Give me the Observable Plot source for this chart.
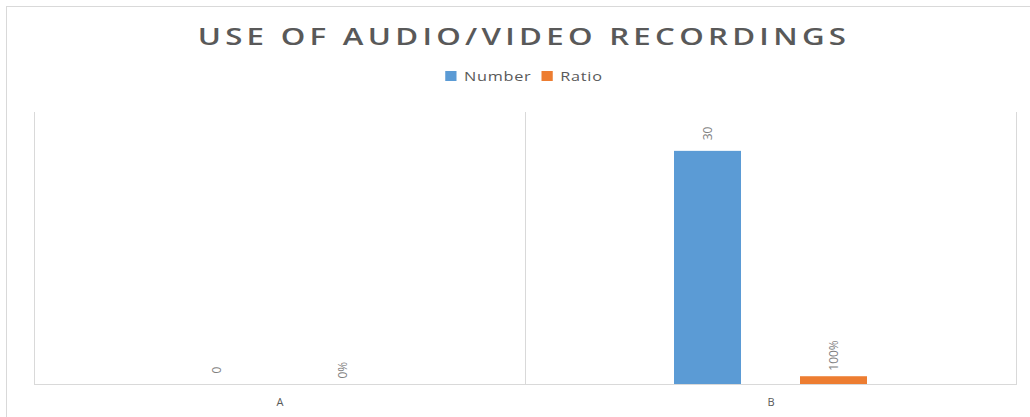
<!DOCTYPE html>
<html>
<head>
<meta charset="utf-8">
<script src="https://cdn.jsdelivr.net/npm/d3@7"></script>
<script src="https://cdn.jsdelivr.net/npm/@observablehq/plot@0.6"></script>
<style>
  html, body { margin: 0; padding: 0; background: #fff; }
  #chart { position: relative; width: 1030px; height: 417px; overflow: hidden; font-family: "Open Sans", sans-serif; }
  #border { position: absolute; left: 6px; top: 6px; width: 1100px; height: 500px; border-left: 1px solid #d9d9d9; border-top: 1px solid #d9d9d9; }
  #title { position: absolute; left: 9px; top: 19px; width: 1030px; text-align: center; font-size: 24px; font-weight: 600; letter-spacing: 3.3px; color: #595959; transform: scaleX(1.3); transform-origin: 515px 0; white-space: nowrap; }
  #legend { position: absolute; left: 9px; top: 67px; width: 1030px; display: flex; justify-content: center; gap: 8px; font-size: 13px; letter-spacing: 0.6px; color: #595959; transform: scaleX(1.25); transform-origin: 515px 0; }
  #legend .item { display: flex; align-items: center; gap: 6px; }
  #legend .sw { width: 9px; height: 10px; display: inline-block; }
  #plot { position: absolute; left: 0; top: 100px; }
</style>
</head>
<body>
<div id="chart">
  <div id="border"></div>
  <div id="title">USE OF AUDIO/VIDEO RECORDINGS</div>
  <div id="legend"></div>
  <div id="plot"></div>
</div>
<script>
const title = "USE OF AUDIO/VIDEO RECORDINGS";
const categories = ["A", "B"];
const series = ["Number", "Ratio"];
const colors = ["#5B9BD5", "#ED7D31"];
const numbers = [0, 30];
const ratioPercents = [0, 100];

const rows = categories.flatMap((c, i) => [
  {category: c, series: "Number", value: numbers[i], label: String(numbers[i])},
  {category: c, series: "Ratio", value: ratioPercents[i] / 100, label: ratioPercents[i] + "%"}
]);

const legend = document.getElementById("legend");
series.forEach((s, i) => {
  const item = document.createElement("span");
  item.className = "item";
  const sw = document.createElement("span");
  sw.className = "sw";
  sw.style.background = colors[i];
  item.appendChild(sw);
  item.appendChild(document.createTextNode(s));
  legend.appendChild(item);
});

const chart = Plot.plot({
  width: 1030,
  height: 317,
  marginTop: 12,
  marginBottom: 33,
  marginLeft: 33,
  marginRight: 14,
  style: {fontFamily: "Open Sans, sans-serif", background: "transparent"},
  fx: {domain: categories, padding: 0, label: null},
  x: {domain: series, paddingInner: 0.472, paddingOuter: 1.173, axis: null},
  y: {domain: [0, 35], axis: null},
  color: {domain: series, range: colors},
  marks: [
    Plot.frame({anchor: "left", stroke: "#d9d9d9"}),
    Plot.frame({anchor: "right", stroke: "#d9d9d9"}),
    Plot.barY(rows, {fx: "category", x: "series", y: "value", fill: "series"}),
    Plot.ruleY([0], {stroke: "#d9d9d9"}),
    Plot.text(rows.filter(d => d.series === "Number"), {fx: "category", x: "series", y: "value", text: "label", rotate: -90, textAnchor: "start", dy: -11, fill: "#7f7f7f", fontSize: 12}),
    Plot.text(rows.filter(d => d.series === "Ratio"), {fx: "category", x: "series", y: "value", text: "label", rotate: -90, textAnchor: "start", dy: -6, fill: "#7f7f7f", fontSize: 12}),
    Plot.axisFx({anchor: "bottom", tickSize: 0, tickPadding: 14, fontSize: 11, color: "#595959", label: null})
  ]
});
document.getElementById("plot").appendChild(chart);
</script>
</body>
</html>
